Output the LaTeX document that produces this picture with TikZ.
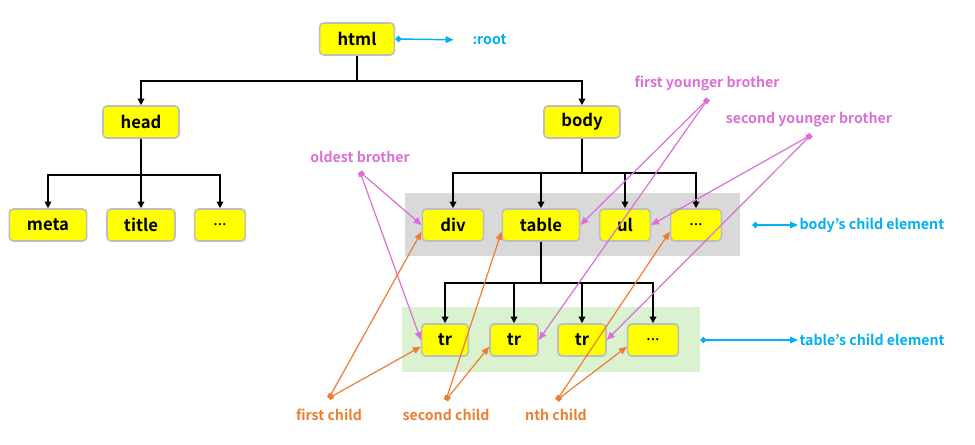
\documentclass[tikz,border=0pt]{standalone}
\usepackage{fontspec}
\setmainfont{Noto Sans CJK KR}[BoldFont={Noto Sans CJK KR Bold}]
\newfontfamily\dotfont{Noto Sans}
\usepackage{xcolor}
\usetikzlibrary{positioning, arrows.meta, backgrounds}
\definecolor{tagyellow}{RGB}{255,255,0}
\definecolor{tagborder}{RGB}{190,190,190}
\definecolor{sibpink}{RGB}{218,112,214}
\definecolor{kidorange}{RGB}{237,125,49}
\definecolor{notecyan}{RGB}{0,176,240}
\definecolor{bandgray}{RGB}{217,217,217}
\definecolor{bandgreen}{RGB}{218,242,208}
\newcommand{\tagdots}{{\dotfont\bfseries...}}
\tikzset{
    % Tag boxes
    tag/.style={rectangle, draw=tagborder, line width=1.2pt, rounded corners=3pt,
                fill=tagyellow, minimum height=24pt, inner sep=0pt,
                font=\bfseries\fontsize{12.5}{14}\selectfont},
    % Arrow styles
    tree arrow/.style={-{Triangle[length=5pt, width=5pt]}, line width=1.1pt},
    pink arrow/.style={{Square[length=3.5pt]}-{Triangle[length=6pt, width=5pt]}, sibpink, line width=0.9pt},
    orange arrow/.style={{Square[length=3.5pt]}-{Triangle[length=6pt, width=5pt]}, kidorange, line width=0.9pt},
    cyan arrow/.style={{Diamond[length=5pt, width=5pt]}-{Triangle[length=6pt, width=5pt]}, notecyan, line width=1.1pt},
    % Annotation styles
    note/.style={font=\bfseries\fontsize{10.6}{12}\selectfont, inner sep=1pt},
}

\begin{document}
\begin{tikzpicture}[x=0.75pt, y=-0.75pt]
    \useasboundingbox (0,0) rectangle (975,445);

    % Background bands
    \fill[bandgray] (405,193) rectangle (740,256);
    \fill[bandgreen] (402,307) rectangle (700,372);

    % Tags
    \node[tag, minimum width=56pt] (html) at (357,39) {html};
    \node[tag, minimum width=57pt] (head) at (141,122) {head};
    \node[tag, minimum width=57pt] (body) at (582,122) {body};
    \node[tag, minimum width=58pt] (meta) at (48,225) {meta};
    \node[tag, minimum width=51pt] (title) at (141,225) {title};
    \node[tag, minimum width=38pt] (hdots) at (220,225) {\tagdots};
    \node[tag, minimum width=46pt] (div) at (453,225) {div};
    \node[tag, minimum width=58pt] (table) at (541,225) {table};
    \node[tag, minimum width=38pt] (ul) at (625,225) {ul};
    \node[tag, minimum width=38pt] (bdots) at (696,225) {\tagdots};
    \node[tag, minimum width=35pt] (tr1) at (445,340) {tr};
    \node[tag, minimum width=36pt] (tr2) at (514,340) {tr};
    \node[tag, minimum width=36pt] (tr3) at (582,340) {tr};
    \node[tag, minimum width=38pt] (tdots) at (653,340) {\tagdots};

    % Tree edges
    \foreach \c in {head, body} {
        \draw[tree arrow] (html.south) -- ++(0,25) -| (\c.north);
    }
    \foreach \c in {meta, title, hdots} {
        \draw[tree arrow] (head.south) -- ++(0,36) -| (\c.north);
    }
    \foreach \c in {div, table, ul, bdots} {
        \draw[tree arrow] (body.south) -- ++(0,34) -| (\c.north);
    }
    \foreach \c in {tr1, tr2, tr3, tdots} {
        \draw[tree arrow] (table.south) -- ++(0,41) -| (\c.north);
    }

    % Cyan notes
    \node[note, text=notecyan, anchor=west] (root) at (471,40) {:root};
    \draw[cyan arrow, shorten >=13pt] (html.east) -- (root.west);
    \node[note, text=notecyan, anchor=west] (bodykids) at (798,225) {body’s child element};
    \coordinate (bodytip) at (752,225);
    \draw[cyan arrow] (bodytip) -- (bodykids.west);
    \node[note, text=notecyan, anchor=west] (tablekids) at (798,340) {table’s child element};
    \coordinate (tabletip) at (700,340);
    \draw[cyan arrow] (tabletip) -- (tablekids.west);

    % Brother notes
    \node[note, text=sibpink] (oldest) at (360,157) {oldest brother};
    \coordinate (oldestdot) at (360,172);
    \node[note, text=sibpink] (first) at (707,83) {first younger brother};
    \coordinate (firstdot) at (708,99);
    \node[note, text=sibpink] (second) at (809,120) {second younger brother};
    \coordinate (seconddot) at (811,135);
    \foreach \s/\t in {oldestdot/div.west, oldestdot/tr1.west,
                       firstdot/table.east, firstdot/tr2.east,
                       seconddot/ul.east, seconddot/tr3.east} {
        \draw[pink arrow] (\s) -- (\t);
    }

    % Child notes
    \node[note, text=kidorange] (firstkid) at (329,415) {first child};
    \coordinate (firstkiddot) at (329,398);
    \node[note, text=kidorange] (secondkid) at (446,415) {second child};
    \coordinate (secondkiddot) at (446,400);
    \node[note, text=kidorange] (nthkid) at (556,415) {nth child};
    \coordinate (nthkiddot) at (557,400);
    \foreach \s/\t in {firstkiddot/div, firstkiddot/tr1,
                       secondkiddot/table, secondkiddot/tr2,
                       nthkiddot/bdots, nthkiddot/tdots} {
        \draw[orange arrow] (\s) -- ([yshift=-5pt]\t.west);
    }
\end{tikzpicture}
\end{document}
